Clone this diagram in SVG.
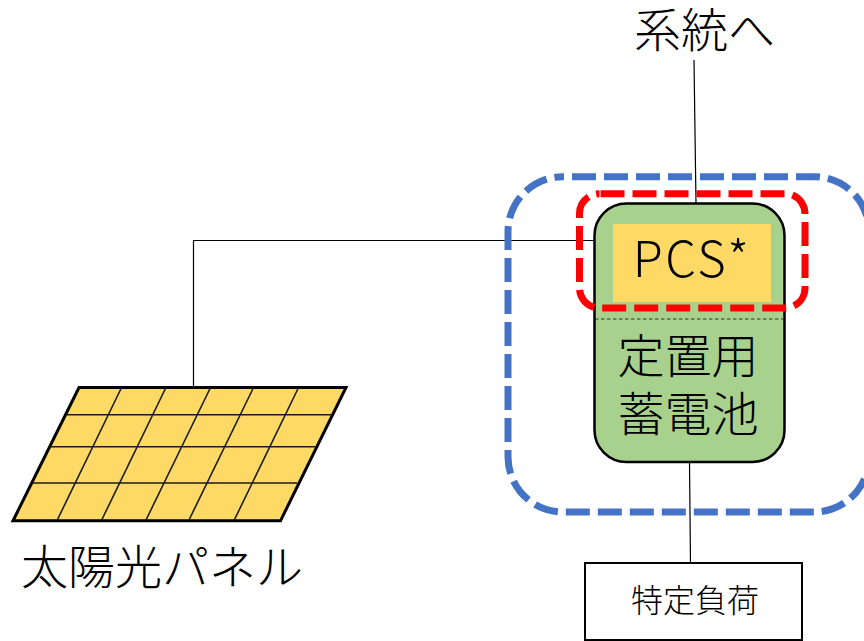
<svg xmlns="http://www.w3.org/2000/svg" width="864" height="641" viewBox="0 0 864 641">
<style>
text{font-family:"Noto Sans CJK JP","Noto Sans",sans-serif;fill:#000;font-weight:300}
.wire{fill:none;stroke:#000;stroke-width:1.2}
.grid{fill:none;stroke:#1c1c1c;stroke-width:1.6}
.dash{fill:none;stroke-width:7;stroke-dasharray:24 8}
</style>
<rect width="864" height="641" fill="#fff"/>
<g id="connectors">
<path class="wire" d="M694 60L696 204"/>
<path class="wire" d="M193.500 388V240.500H594"/>
<path class="wire" d="M689.500 462L690.500 563"/>
</g>
<g id="solar-panel">
<path d="M79 387.500H346L280.500 520.800H13Z" fill="#ffd966" stroke="#000" stroke-width="3"/>
<path class="grid" d="M67 414.700H332M50 446.700H316M33 483H297M121.300 388L57.300 520M165.700 388L101.700 520M210.300 388L146 520M253.300 388L189 520M298.300 388L234.300 520"/>
<text x="162" y="584" font-size="47" text-anchor="middle">太陽光パネル</text>
</g>
<g id="battery">
<rect x="594.500" y="203.500" width="190" height="258.500" rx="32" fill="#a9d18e" stroke="#000" stroke-width="2.500"/>
<path d="M595 319H783" fill="none" stroke="#333" stroke-width="1.200" stroke-dasharray="3.500 2.500"/>
<text font-size="47" text-anchor="middle"><tspan x="688" y="373">定置用</tspan><tspan x="688" y="431">蓄電池</tspan></text>
</g>
<g id="pcs">
<rect x="613" y="224" width="158" height="78" fill="#ffd966"/>
<text x="692" y="277" font-size="49" letter-spacing="2.500" text-anchor="middle">PCS*</text>
</g>
<g id="pcs-outline">
<rect class="dash" x="579.500" y="193.700" width="225.500" height="114.300" rx="20" stroke="#ff0000" stroke-dashoffset="31"/>
</g>
<g id="system-outline">
<rect class="dash" x="508" y="176.700" width="361" height="335.300" rx="55" stroke="#4472c4" stroke-dashoffset="23"/>
</g>
<g id="grid-label">
<text x="704.500" y="47" font-size="47" text-anchor="middle">系統へ</text>
</g>
<g id="load">
<rect x="585" y="563" width="217" height="77" fill="#fff" stroke="#000" stroke-width="2"/>
<text x="695" y="612" font-size="32" text-anchor="middle">特定負荷</text>
</g>
</svg>
